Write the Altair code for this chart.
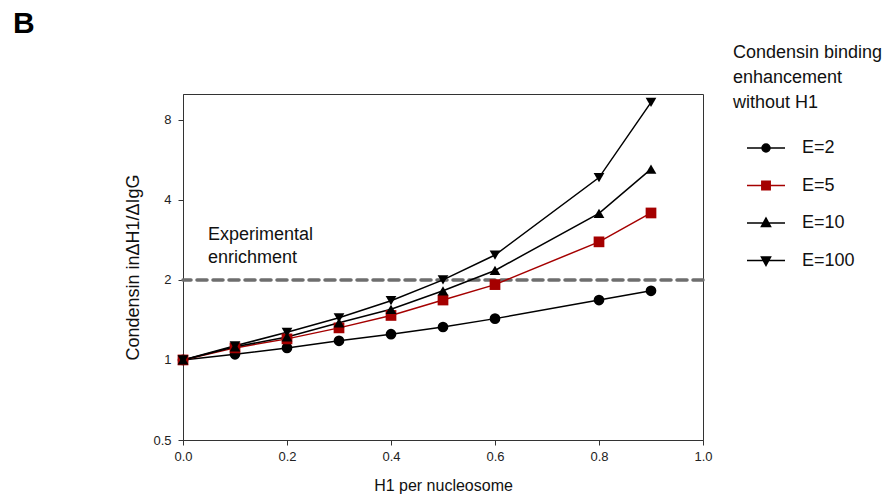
import altair as alt
import pandas as pd

# ---- data ----
h1 = [0.0, 0.1, 0.2, 0.3, 0.4, 0.5, 0.6, 0.8, 0.9]
e2 = [1.0, 1.05, 1.11, 1.18, 1.25, 1.33, 1.43, 1.68, 1.82]
e5 = [1.0, 1.11, 1.20, 1.32, 1.47, 1.68, 1.92, 2.78, 3.57]
e10 = [1.0, 1.12, 1.22, 1.38, 1.55, 1.82, 2.17, 3.56, 5.22]
e100 = [1.0, 1.13, 1.27, 1.44, 1.67, 2.00, 2.48, 4.85, 9.30]
series_names = ["E=2", "E=5", "E=10", "E=100"]
series_colors = ["#000000", "#A50000", "#000000", "#000000"]
series_shapes = ["circle", "square", "triangle-up", "triangle-down"]
legend_shapes = [
    "M-1,0L1,0M0.21,0A0.21,0.21,0,1,1,-0.21,0A0.21,0.21,0,1,1,0.21,0Z",
    "M-1,0L1,0M-0.22,-0.22L0.22,-0.22L0.22,0.22L-0.22,0.22Z",
    "M-1,0L1,0M0,-0.26L0.24,0.18L-0.24,0.18Z",
    "M-1,0L1,0M0,0.26L0.24,-0.18L-0.24,-0.18Z",
]
x_ticks = [0.0, 0.2, 0.4, 0.6, 0.8, 1.0]
y_ticks = [0.5, 1, 2, 4, 8]
threshold = [2.0]
note_x = [0.048]
note_y = [2.83]
note_text = [["Experimental", "enrichment"]]

rows = []
for i, (name, vals) in enumerate(zip(series_names, [e2, e5, e10, e100])):
    for xv, yv in zip(h1, vals):
        rows.append({"h1": xv, "ratio": yv, "E": name,
                     "col": series_colors[i], "shp": series_shapes[i]})
df = pd.DataFrame(rows)

FONT = "Liberation Sans"
xscale = alt.Scale(domain=[0, 1], nice=False)
yscale = alt.Scale(type="log", base=2, domain=[0.5, 10], nice=False)

axis_style = dict(labelFont=FONT, labelFontSize=13, labelColor="#222",
                  titleFont=FONT, titleFontWeight="normal", titleColor="#111",
                  grid=False, domainColor="#333", tickColor="#333", tickSize=5, labelFlush=False)

xaxis = alt.Axis(values=x_ticks, format=".1f", title="H1 per nucleosome",
                 titlePadding=14, labelPadding=5, titleFontSize=16, **axis_style)
yaxis = alt.Axis(values=y_ticks, format="~g", title="Condensin in\u0394H1/\u0394IgG",
                 titlePadding=10, labelPadding=7, titleFontSize=18, **axis_style)
xenc = alt.X("h1:Q", scale=xscale, axis=xaxis)
yenc = alt.Y("ratio:Q", scale=yscale, axis=yaxis)

base = alt.Chart(df)

lines = base.mark_line(strokeWidth=1.5).encode(
    x=xenc, y=yenc,
    color=alt.Color("col:N", scale=None),
    detail="E:N",
    order="h1:Q",
)

points = base.mark_point(filled=True, size=115, opacity=1).encode(
    x=xenc, y=yenc,
    color=alt.Color("col:N", scale=None),
    shape=alt.Shape("shp:N", scale=None),
)

leg = alt.Legend(
    title=["Condensin binding", "enhancement", "without H1"],
    orient="none", legendX=550, legendY=-50,
    titleFontSize=18, titleFontWeight="normal", titleFont=FONT, titleColor="#111",
    titleLineHeight=25, titlePadding=16,
    labelFontSize=18, labelFont=FONT, labelColor="#111", labelOffset=16,
    symbolSize=1444, symbolStrokeWidth=1.5, symbolOffset=13, rowPadding=8.5, padding=0,
    symbolOpacity=1,
)
legend_layer = base.transform_filter("false").mark_point(filled=True, strokeWidth=1.5, opacity=1).encode(
    x=xenc, y=yenc,
    fill=alt.Fill("E:N", scale=alt.Scale(domain=series_names, range=series_colors), legend=leg),
    stroke=alt.Stroke("E:N", scale=alt.Scale(domain=series_names, range=series_colors), legend=leg),
    shape=alt.Shape("E:N", scale=alt.Scale(domain=series_names, range=legend_shapes), legend=leg),
)

rule = alt.Chart(pd.DataFrame({"ratio": threshold})).mark_rule(
    color="#6e6e6e", strokeWidth=3.5, strokeDash=[10, 6], strokeCap="round"
).encode(y=yenc)

note = alt.Chart(pd.DataFrame({"h1": note_x, "ratio": note_y, "t": note_text})).mark_text(
    align="left", baseline="alphabetic", fontSize=18, font=FONT, color="#111", lineHeight=23
).encode(
    x=xenc,
    y=yenc,
    text="t",
)

chart = alt.layer(rule, lines, points, note, legend_layer).properties(
    width=520, height=346,
    autosize=alt.AutoSizeParams(type="none"),
    padding={"left": 183, "top": 94, "right": 189, "bottom": 58},
    background="white",
    title=alt.TitleParams("B", anchor="start", fontSize=30, fontWeight="bold", font=FONT,
                          color="#000", dx=-170, dy=-5, baseline="top", offset=0, frame="group"),
).configure_view(
    stroke="#333", strokeWidth=1
).configure_axis(
    labelFont=FONT, labelFontSize=13, labelColor="#222",
    titleFont=FONT, titleFontWeight="normal", titleColor="#111",
    grid=False, domainColor="#333", tickColor="#333", tickSize=5, labelFlush=False,
)

chart.save("out.html", embed_options={"renderer": "svg", "actions": False})
